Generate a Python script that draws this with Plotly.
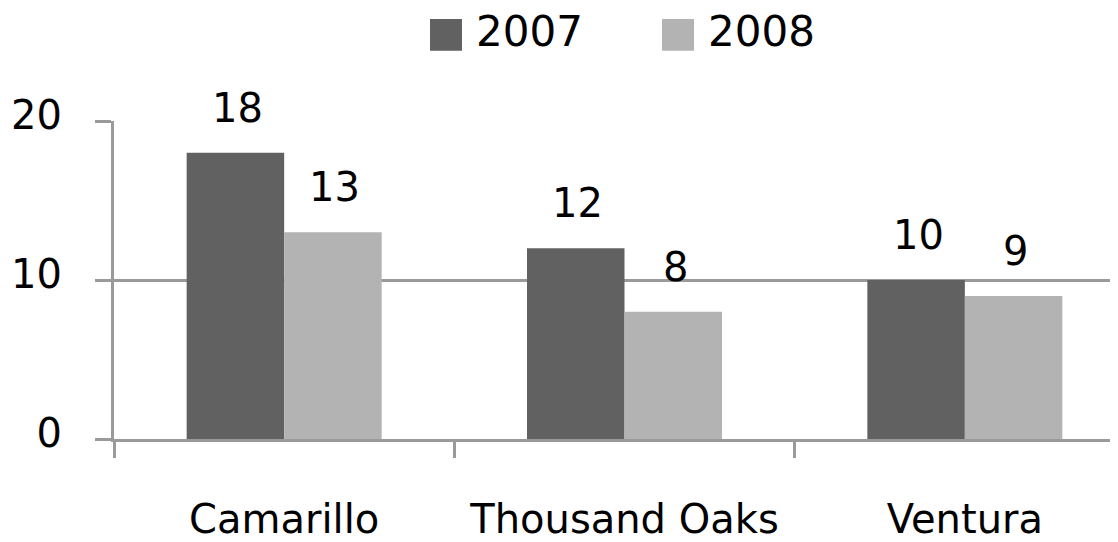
import plotly.graph_objects as go

categories = ["Camarillo", "Thousand Oaks", "Ventura"]
series_names = ["2007", "2008"]
values_2007 = [18, 12, 10]
values_2008 = [13, 8, 9]
y_ticks = [0, 10, 20]

colors = ["#616161", "#b3b3b3"]
LINE = "#9a9a9a"
FONT = "DejaVu Sans"
OFF = 8  # page body margin
W, H = 1118 - OFF, 542 - OFF
ML, MR, MT, MB = 114 - OFF, 0, 121 - OFF, 100
XR = [-0.5, 2.45]
BARGAP = 0.427
PW, PH = W - ML - MR, H - MT - MB


def px_x(x):
    return (x - OFF - ML) / PW


def px_y(y):
    return (H - MB - (y - OFF)) / PH


fig = go.Figure()
series = [values_2007, values_2008]
for name, vals, col in zip(series_names, series, colors):
    fig.add_trace(go.Bar(x=categories, y=vals, name=name, marker_color=col,
                         marker_line_width=0, showlegend=False))

# data labels above bars
px_per_cat = PW / (XR[1] - XR[0])
bar_w = px_per_cat * (1 - BARGAP) / 2
for i, vals in enumerate(series):
    shift = (i - 0.5) * bar_w
    for c, v in zip(categories, vals):
        fig.add_annotation(x=c, y=v, text=str(v), showarrow=False,
                           xshift=shift + 2, yshift=45, yanchor="middle",
                           font=dict(family=FONT, size=40, color="black"))

# custom legend
leg_x = [430, 662]
for i, (name, col) in enumerate(zip(series_names, colors)):
    fig.add_shape(type="rect", xref="paper", yref="paper",
                  x0=px_x(leg_x[i]), x1=px_x(leg_x[i] + 32),
                  y0=px_y(50), y1=px_y(18),
                  fillcolor=col, line_width=0)
    fig.add_annotation(xref="paper", yref="paper",
                       x=px_x(leg_x[i] + 44), y=px_y(31),
                       xanchor="left", yanchor="middle", text=name, showarrow=False,
                       font=dict(family=FONT, size=42, color="black"))

fig.update_layout(
    width=W, height=H,
    margin=dict(l=ML, r=MR, t=MT, b=MB, pad=0),
    paper_bgcolor="white", plot_bgcolor="white",
    barmode="group", bargap=BARGAP, bargroupgap=0,
    font=dict(family=FONT, size=40, color="black"),
)
fig.update_xaxes(range=XR, tickson="boundaries", ticks="outside", ticklen=16,
                 tickwidth=3, tickcolor=LINE, showline=True, linecolor=LINE,
                 linewidth=3, showgrid=False, ticklabelstandoff=43,
                 tickfont=dict(family=FONT, size=40, color="black"))
fig.update_yaxes(range=[0, 20], tickvals=y_ticks, ticks="outside", ticklen=16,
                 tickwidth=3, tickcolor=LINE, showline=True, linecolor=LINE,
                 linewidth=3, showgrid=True, gridcolor=LINE, gridwidth=3,
                 zeroline=False, ticklabelstandoff=25, ticklabelshift=-6,
                 tickfont=dict(family=FONT, size=40, color="black"))

fig.write_html("out.html")
